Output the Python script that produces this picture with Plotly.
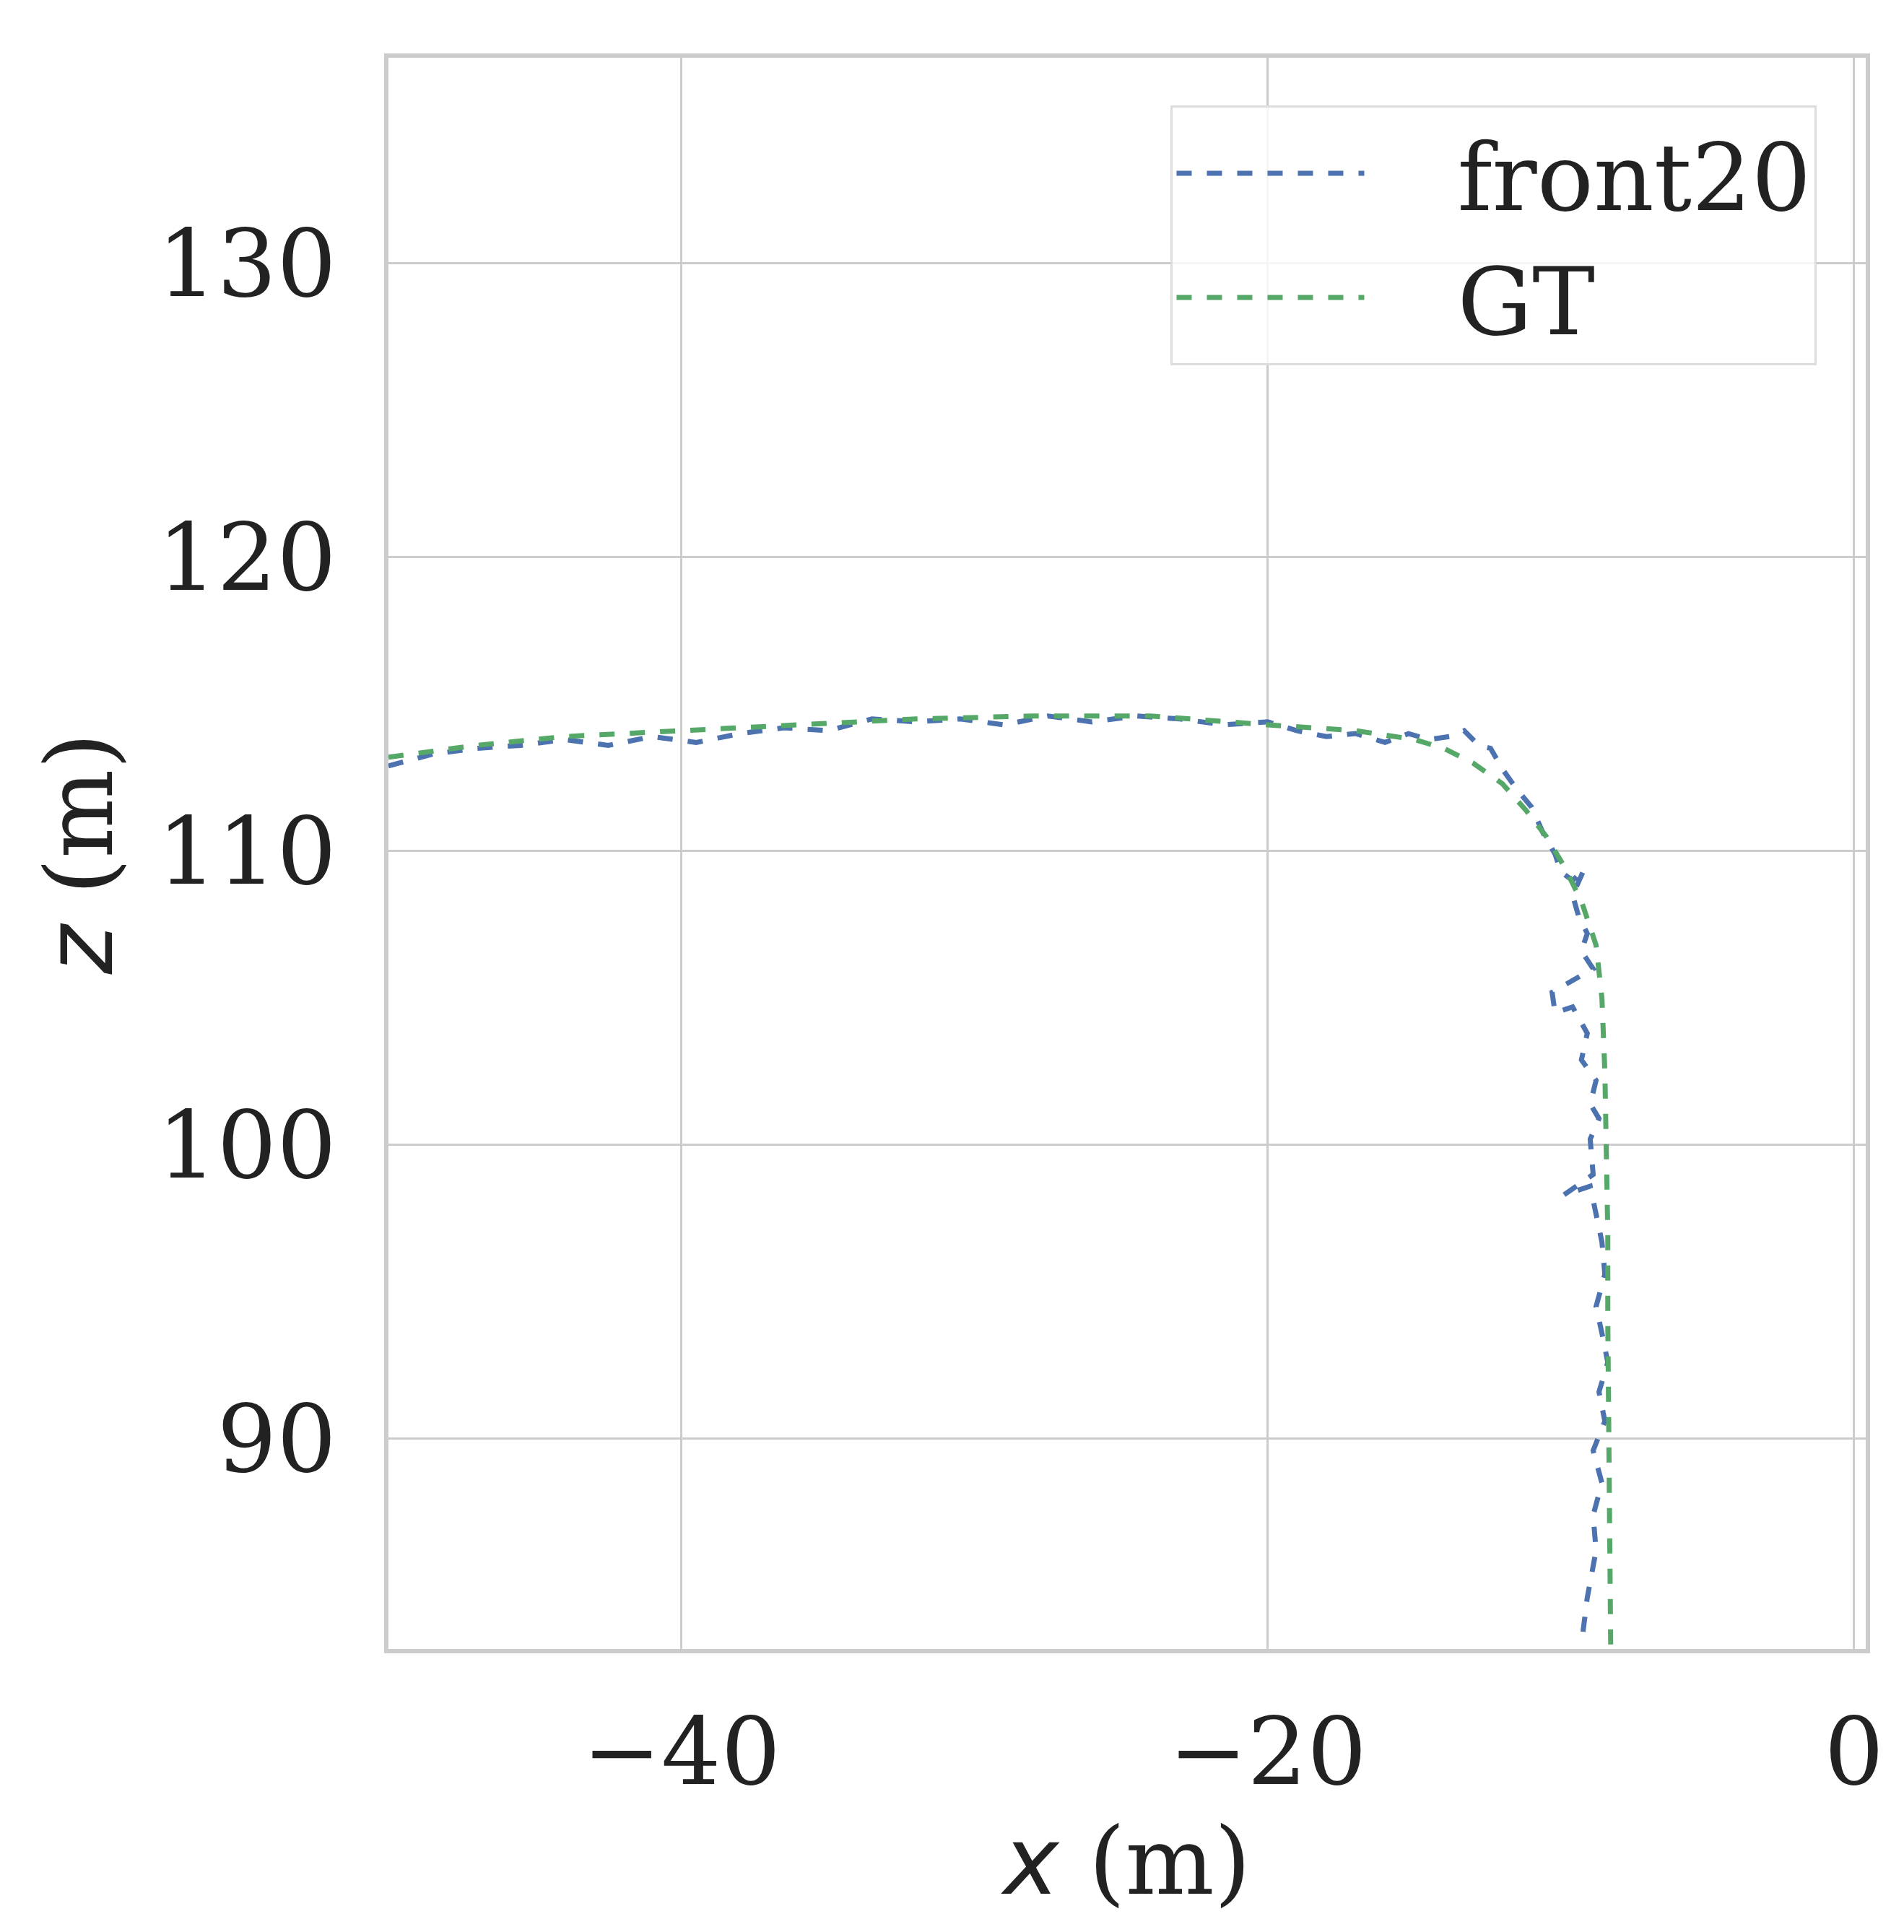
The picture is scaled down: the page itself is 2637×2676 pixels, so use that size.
import plotly.graph_objects as go

gt_x = [-50, -47, -44, -40, -36, -32, -28, -24, -20, -17, -15, -14, -13, -12, -11.2, -10.5, -9.9, -9.3, -8.8, -8.6, -8.5, -8.45, -8.4, -8.4, -8.35, -8.3]
gt_z = [113.2, 113.6, 113.9, 114.1, 114.3, 114.5, 114.6, 114.6, 114.3, 114.1, 113.8, 113.5, 113.0, 112.3, 111.4, 110.5, 109.5, 108.3, 106.8, 105.0, 102.5, 100.0, 97.0, 94.0, 89.0, 82.85]

f_x = [-50, -48.5, -47, -45.5, -44, -42.5, -41, -39.5, -38, -36.5, -35, -33.5, -32, -30.5, -29, -27.5, -26, -24.5, -23, -21.5, -20, -19, -18, -17, -16, -15.2, -14.5, -13.8, -13.3, -12.8, -12.4, -12.0, -11.5, -11.0, -10.6, -10.2, -10.0, -9.6, -9.2, -9.6, -9.4, -9.1, -9.3, -8.9, -9.6, -10.3, -10.2, -9.6, -9.1, -9.3, -8.8, -9.0, -8.7, -9.0, -8.9, -9.7, -9.9, -9.0, -8.8, -8.6, -8.5, -8.8, -8.6, -8.4, -8.7, -8.5, -8.9, -8.6, -8.9, -8.8, -9.1, -9.3]
f_z = [112.9, 113.3, 113.5, 113.6, 113.8, 113.6, 113.9, 113.7, 114.0, 114.2, 114.1, 114.5, 114.4, 114.5, 114.3, 114.6, 114.4, 114.6, 114.5, 114.3, 114.4, 114.1, 113.9, 114.0, 113.7, 114.0, 113.8, 113.9, 114.1, 113.6, 113.5, 112.8, 112.1, 111.5, 110.6, 109.9, 109.3, 109.0, 109.4, 108.5, 107.8, 107.2, 106.6, 106.0, 105.6, 105.2, 104.5, 104.7, 103.8, 102.9, 102.2, 101.4, 100.9, 100.2, 99.0, 98.4, 98.3, 98.6, 97.6, 96.7, 95.6, 94.5, 93.6, 92.6, 91.6, 90.6, 89.6, 88.5, 87.4, 86.2, 84.6, 83.0]

fig = go.Figure()
fig.add_trace(go.Scatter(x=f_x, y=f_z, mode="lines", name="   front20",
                         line=dict(color="#4c72b0", width=7, dash="dash")))
fig.add_trace(go.Scatter(x=gt_x, y=gt_z, mode="lines", name="   GT",
                         line=dict(color="#55a868", width=7, dash="dash")))

font = "DejaVu Serif"
axis_common = dict(showgrid=True, gridcolor="#cccccc", gridwidth=3, zeroline=False,
                   showline=True, linecolor="#cccccc", linewidth=6, mirror=True,
                   ticks="", tickfont=dict(size=130, color="#222222", family=font))
fig.update_xaxes(range=[-50, 0.4], tickvals=[-40, -20, 0], ticktext=["\u221240", "\u221220", "0"],
                 ticklabelstandoff=25,
                 title=dict(text="<span style='font-family:DejaVu Sans'><i>x</i></span> (m)",
                            font=dict(size=130, color="#222222", family=font), standoff=10),
                 **axis_common)
fig.update_yaxes(range=[82.85, 137.0], tickvals=[90, 100, 110, 120, 130],
                 ticklabelstandoff=40,
                 title=dict(text="<span style='font-family:DejaVu Sans'><i>z</i></span> (m)",
                            font=dict(size=130, color="#222222", family=font), standoff=20),
                 **axis_common)
fig.update_layout(width=2637, height=2676, plot_bgcolor="white", paper_bgcolor="white",
                  margin=dict(l=530, r=61, t=72, b=400),
                  legend=dict(x=0.967, y=0.97, xanchor="right", yanchor="top",
                              bgcolor="rgba(255,255,255,0.8)", bordercolor="#dddddd", borderwidth=3,
                              font=dict(size=130, color="#222222", family=font),
                              itemwidth=260))
fig.write_html("out.html")
